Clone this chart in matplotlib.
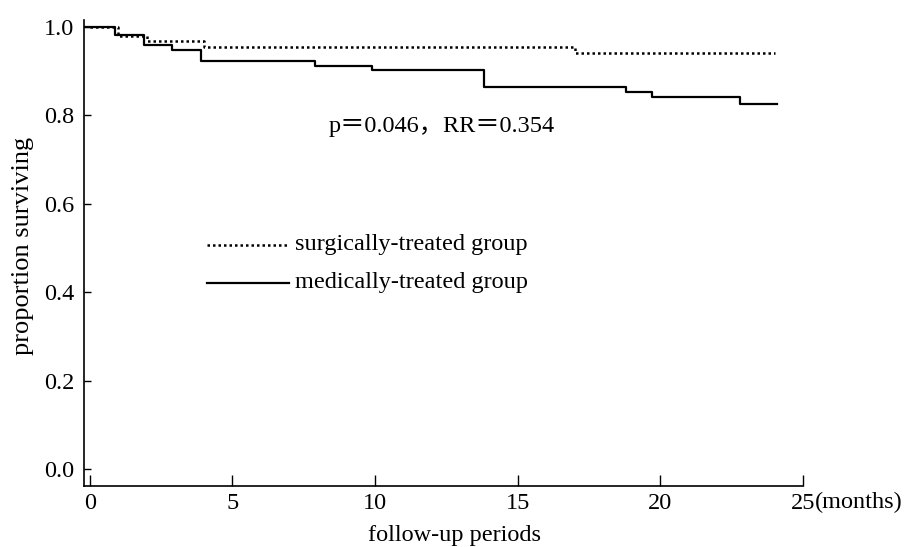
import matplotlib
matplotlib.use("Agg")
import matplotlib.pyplot as plt

plt.rcParams['font.family'] = ['Liberation Serif', 'Noto Sans CJK JP']

# step times (months) and survival proportions
surg_t = [0, 1, 2, 4, 17, 24]
surg_s = [1.0, 0.978, 0.967, 0.953, 0.940, 0.940]
med_t = [-0.2, 0.9, 1.9, 2.9, 3.9, 7.9, 9.9, 13.8, 18.8, 19.7, 22.8, 24.1]
med_s = [1.0, 0.980, 0.959, 0.948, 0.923, 0.910, 0.901, 0.864, 0.852, 0.841, 0.826, 0.826]

x_ticks = [0, 5, 10, 15, 20, 25]
y_ticks = [0.0, 0.2, 0.4, 0.6, 0.8, 1.0]

fs = 17.5

fig = plt.figure(figsize=(9.08, 5.47), dpi=100)
ax = fig.add_axes([0.0925, 0.1115, 0.792, 0.852])

ax.step(surg_t, surg_s, where='post', color='black', linestyle=(0, (1, 1.2)), linewidth=1.8)
ax.step(med_t, med_s, where='post', color='black', linestyle='-', linewidth=1.6)

ax.set_xlim(-0.2, 25)
ax.set_ylim(-0.038, 1.015)
ax.set_xticks(x_ticks)
ax.set_yticks(y_ticks)
ax.set_yticklabels([f"{v:.1f}" for v in y_ticks])
ax.tick_params(axis='x', direction='in', length=8, width=1, labelsize=fs, pad=5)
ax.tick_params(axis='y', direction='in', length=5, width=1, labelsize=fs, pad=7)
for side in ['top', 'right']:
    ax.spines[side].set_visible(False)
for side in ['left', 'bottom']:
    ax.spines[side].set_linewidth(1.2)

ax.text(25.42, -0.076, "(months)", fontsize=fs, ha='left', va='center', clip_on=False)
ax.set_xlabel("follow‐up periods", fontsize=fs)
ax.xaxis.set_label_coords(0.515, -0.083)
ax.set_ylabel("proportion surviving", fontsize=19)
ax.yaxis.set_label_coords(-0.07, 0.515)

ax.text(12.35, 0.775, "p＝0.046，RR＝0.354", fontsize=fs, ha='center', va='center')

# legend drawn by hand
ax.plot([4.1, 7.0], [0.507, 0.507], color='black', linestyle=(0, (1, 1.2)), linewidth=1.8)
ax.text(7.2, 0.507, "surgically‐treated group", fontsize=fs, ha='left', va='center')
ax.plot([4.1, 7.0], [0.421, 0.421], color='black', linestyle='-', linewidth=1.6)
ax.text(7.2, 0.421, "medically‐treated group", fontsize=fs, ha='left', va='center')

fig.savefig("out.png", dpi=100)
